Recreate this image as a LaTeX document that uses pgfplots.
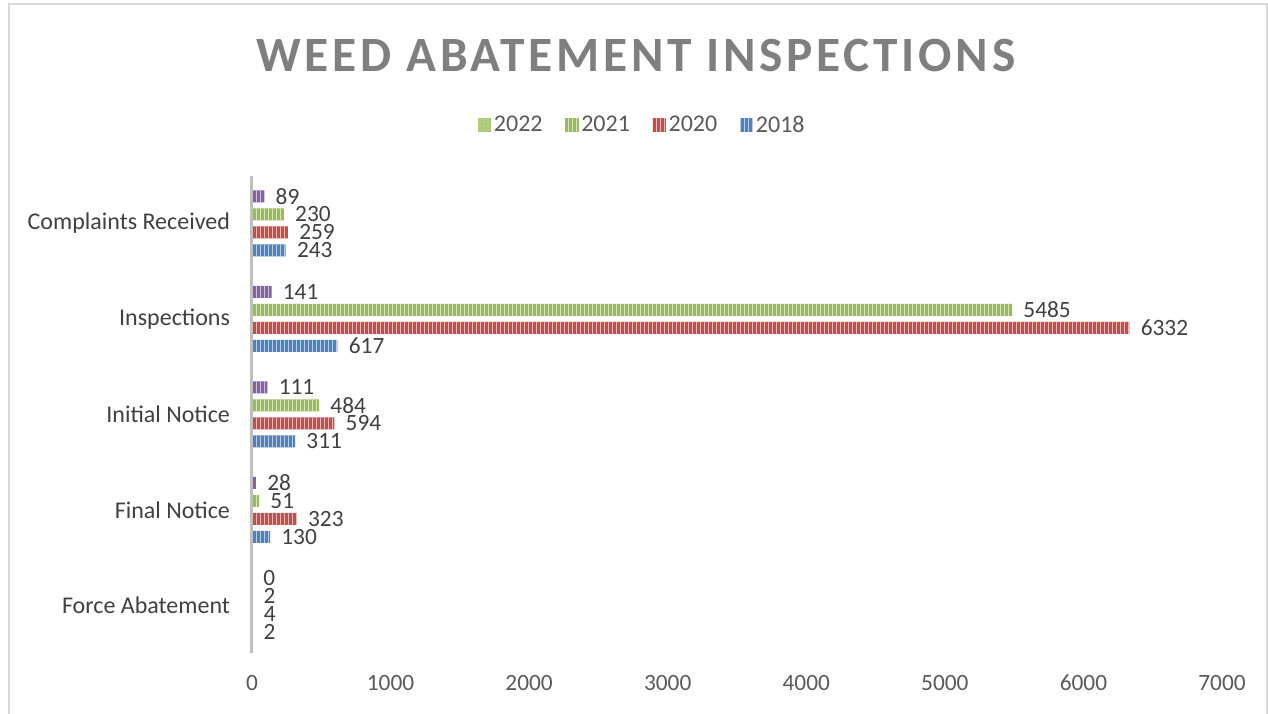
\documentclass[border=0pt]{standalone}
\usepackage{pgfplots}
\pgfplotsset{compat=1.18}
\usepackage{fontspec}
\setmainfont{Carlito}
\newfontfamily\titlefont[LetterSpace=7.5]{Carlito}
\usetikzlibrary{patterns}
\definecolor{cPurple}{HTML}{8064A2}
\definecolor{cGreen}{HTML}{9BBB59}
\definecolor{cRed}{HTML}{C0504D}
\definecolor{cBlue}{HTML}{4F81BD}
\definecolor{cBorder}{HTML}{D9D9D9}
\definecolor{cAxis}{HTML}{BFBFBF}
\definecolor{cTitle}{HTML}{7F7F7F}
\definecolor{cText}{HTML}{404040}
\definecolor{cTick}{HTML}{595959}
\pgfplotsset{
  barP/.style={fill=#1, draw=none, postaction={pattern=vertical lines, pattern color=#1!40!white}},
}
\begin{document}
\begin{tikzpicture}[x=1pt,y=1pt]
\path[use as bounding box] (0,0) rectangle (951,535.5);
\draw[color=cBorder, line width=1.5pt] (6.75,-5) -- (6.75,532.5) -- (950.25,532.5) -- (950.25,-5);
\begin{axis}[
  at={(189pt,45.75pt)}, anchor=south west,
  scale only axis, width=727.5pt, height=358.1pt,
  xmin=0, xmax=7000, ymin=-0.5, ymax=4.5,
  xtick={0,1000,...,7000}, ytick={0,1,2,3,4},
  yticklabels={Force Abatement, Final Notice, Initial Notice, Inspections, Complaints Received},
  scaled x ticks=false,
  /pgf/number format/1000 sep={},
  /pgf/number format/assume math mode=true,
  major tick length=0pt,
  axis line style={draw=none},
  xticklabel style={font=\fontsize{17.5}{20}\selectfont, color=cTick, anchor=north, yshift=-13pt},
  yticklabel style={font=\fontsize{18}{20}\selectfont, color=cText, anchor=east, xshift=-13pt},
  xbar, bar width=9pt,
  point meta=x,
  nodes near coords,
  every node near coord/.append style={anchor=west, xshift=5pt, inner ysep=0pt, font=\fontsize{17.5}{20}\selectfont, color=cText},
  clip=false,
  legend columns=4,
  legend style={at={(0.4027,1.106)}, anchor=center, draw=none, fill=none,
    font=\fontsize{18}{20}\selectfont, text=cTick,
    /tikz/every even column/.append style={column sep=15pt}},
  legend image code/.code={\fill[#1] (0pt,-5pt) rectangle (10pt,5pt);},
]
\addlegendimage{fill=cGreen!80!white, draw=none, postaction={pattern=dots, pattern color=cGreen!40!white}}
\addplot[barP=cPurple, bar shift=20.25pt, forget plot] coordinates {(0,0) (28,1) (111,2) (141,3) (89,4)};
\addplot[barP=cGreen, bar shift=6.75pt] coordinates {(2,0) (51,1) (484,2) (5485,3) (230,4)};
\addplot[barP=cRed, bar shift=-6.75pt] coordinates {(4,0) (323,1) (594,2) (6332,3) (259,4)};
\addplot[barP=cBlue, bar shift=-20.25pt] coordinates {(2,0) (130,1) (311,2) (617,3) (243,4)};
\legend{2022,2021,2020,2018}
\draw[color=cAxis, line width=2.25pt] (rel axis cs:0,0) -- (rel axis cs:0,1);
\end{axis}
\node[font=\titlefont\bfseries\fontsize{37}{40}\selectfont, color=cTitle] at (477,493.5) {WEED ABATEMENT INSPECTIONS};
\end{tikzpicture}
\end{document}
